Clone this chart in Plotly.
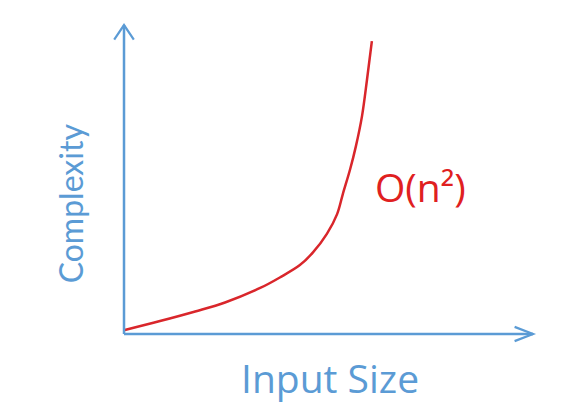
import plotly.graph_objects as go

# Data (arbitrary units, axes 0..10)
input_size = [0.02, 0.88, 1.74, 2.47, 3.33, 3.81, 4.30, 4.62, 4.96, 5.21, 5.35, 5.53, 5.67, 5.82, 5.94, 6.06]
complexity = [0.13, 0.42, 0.73, 1.02, 1.49, 1.83, 2.23, 2.64, 3.24, 3.88, 4.53, 5.34, 6.08, 7.06, 8.22, 9.48]

x_label = "Input Size"
y_label = "Complexity"
curve_label = "O(n²)"

BLUE = "#5B9BD5"
RED = "#D9262B"

fig = go.Figure()
fig.add_trace(go.Scatter(
    x=input_size, y=complexity, mode="lines",
    line=dict(color=RED, width=2.5, shape="spline", smoothing=1.0),
    hoverinfo="skip", showlegend=False,
))

# axis lines with open chevron arrowheads
shapes = [
    dict(type="line", x0=0, y0=0, x1=0, y1=10, xref="x", yref="y",
         line=dict(color=BLUE, width=2.5)),
    dict(type="line", x0=0, y0=0, x1=10, y1=0, xref="x", yref="y",
         line=dict(color=BLUE, width=2.5)),
    dict(type="path", path="M -0.24,9.53 L 0,10 L 0.24,9.53", xref="x", yref="y",
         line=dict(color=BLUE, width=2.2)),
    dict(type="path", path="M 9.55,0.23 L 10,0 L 9.55,-0.23", xref="x", yref="y",
         line=dict(color=BLUE, width=2.2)),
]

annotations = [
    dict(x=0.517, y=-0.080, xref="paper", yref="paper", text=x_label, showarrow=False,
         font=dict(family="Open Sans", size=39, color=BLUE),
         xanchor="center", yanchor="middle"),
    dict(x=-0.067, y=0.440, xref="paper", yref="paper", text=y_label, showarrow=False,
         textangle=-90,
         font=dict(family="Lato", size=32, color=BLUE),
         xanchor="center", yanchor="middle"),
    dict(x=0.721, y=0.491, xref="paper", yref="paper", text=curve_label, showarrow=False,
         font=dict(family="Open Sans", size=39, color="#E0201F"),
         xanchor="center", yanchor="middle"),
]

fig.update_layout(
    width=577, height=403,
    margin=dict(l=92, r=40, t=7, b=60),
    paper_bgcolor="white", plot_bgcolor="white",
    xaxis=dict(range=[-0.587, 10.293], visible=False, fixedrange=True),
    yaxis=dict(range=[-0.550, 10.324], visible=False, fixedrange=True),
    shapes=shapes,
    annotations=annotations,
    showlegend=False,
)

fig.write_html("out.html")
